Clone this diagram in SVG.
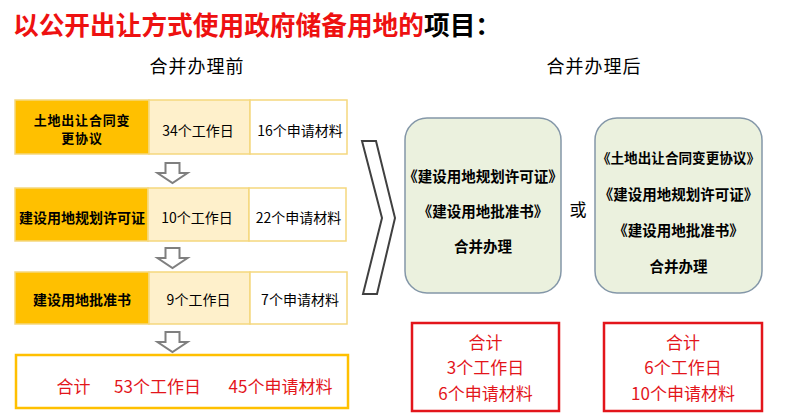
<svg xmlns="http://www.w3.org/2000/svg" width="786" height="420" viewBox="0 0 786 420">
<defs>
<style>
text{font-family:"Noto Sans CJK SC","Noto Sans",sans-serif;}
.cell{stroke:#F5D77E;stroke-width:1.5;}
.c1{fill:#FFC000;}
.c2{fill:#FEF0CB;}
.c3{fill:#FFFFFF;}
.lbl{font-size:14px;font-weight:bold;fill:#000;text-anchor:middle;}
.val{font-size:14px;fill:#000;text-anchor:middle;}
.sub{font-size:18px;fill:#000;text-anchor:middle;letter-spacing:1px;}
.red{fill:#E3151B;text-anchor:middle;font-size:17px;}
.rbox{fill:#EBF1DE;stroke:#8497A8;stroke-width:1.5;}
.btxt{font-size:14.5px;font-weight:bold;fill:#000;text-anchor:middle;}
.arrow{fill:#FFFFFF;stroke:#7F7F7F;stroke-width:2;stroke-linejoin:miter;}
</style>
<polygon id="down" points="-7,0 7,0 7,10 15,10 0,20 -15,10 -7,10"/>
</defs>
<rect width="786" height="420" fill="#FFFFFF"/>

<g id="title">
<text x="13" y="35" font-size="25.7" font-weight="bold"><tspan fill="#EE1111">以公开出让方式使用政府储备用地的</tspan><tspan fill="#000000">项目：</tspan></text>
</g>
<g id="sub-before"><text class="sub" x="197" y="73">合并办理前</text></g>
<g id="sub-after"><text class="sub" x="594" y="73">合并办理后</text></g>

<g id="row1">
<rect class="cell c1" x="15" y="100" width="134" height="54"/>
<rect class="cell c2" x="149" y="100" width="101" height="54"/>
<rect class="cell c3" x="250" y="100" width="97" height="54"/>
<text class="lbl" x="82" y="124.5" style="font-size:13px;letter-spacing:0.8px">土地出让合同变<tspan x="82" dy="18.8">更协议</tspan></text>
<text class="val" x="198" y="136">34个工作日</text>
<text class="val" x="300" y="136">16个申请材料</text>
</g>

<g id="row2">
<rect class="cell c1" x="15" y="188" width="133" height="53"/>
<rect class="cell c2" x="148" y="188" width="101" height="53"/>
<rect class="cell c3" x="249" y="188" width="97" height="53"/>
<text class="lbl" x="82" y="223">建设用地规划许可证</text>
<text class="val" x="197" y="223">10个工作日</text>
<text class="val" x="298.5" y="223">22个申请材料</text>
</g>

<g id="row3">
<rect class="cell c1" x="15" y="272" width="134" height="52"/>
<rect class="cell c2" x="149" y="272" width="101" height="52"/>
<rect class="cell c3" x="250" y="272" width="97" height="52"/>
<text class="lbl" x="82" y="305">建设用地批准书</text>
<text class="val" x="198.5" y="305">9个工作日</text>
<text class="val" x="300" y="305">7个申请材料</text>
</g>

<g id="total-before">
<rect x="16" y="355" width="332" height="53" fill="#FFFFFF" stroke="#FFC000" stroke-width="2.5"/>
<text class="red" x="73.5" y="393">合计</text>
<text class="red" x="157.5" y="393">53个工作日</text>
<text class="red" x="280.5" y="393">45个申请材料</text>
</g>

<g id="merged-a">
<rect class="rbox" x="405" y="118" width="156" height="175" rx="22" ry="22"/>
<text class="btxt" x="483" y="182">《建设用地规划许可证》</text>
<text class="btxt" x="483" y="217">《建设用地批准书》</text>
<text class="btxt" x="483" y="252">合并办理</text>
</g>

<g id="or"><text x="578" y="216" font-size="17" text-anchor="middle" fill="#000">或</text></g>

<g id="merged-b">
<rect class="rbox" x="595" y="118" width="167" height="175" rx="22" ry="22"/>
<text class="btxt" x="678.5" y="163" style="font-size:13.6px">《土地出让合同变更协议》</text>
<text class="btxt" x="678.5" y="200">《建设用地规划许可证》</text>
<text class="btxt" x="678.5" y="236">《建设用地批准书》</text>
<text class="btxt" x="678.5" y="272">合并办理</text>
</g>

<g id="total-a">
<rect x="412" y="323" width="147" height="88" fill="#FFFFFF" stroke="#E3151B" stroke-width="2.5"/>
<text class="red" x="485.5" y="349">合计</text>
<text class="red" x="485.5" y="374">3个工作日</text>
<text class="red" x="485.5" y="400">6个申请材料</text>
</g>

<g id="total-b">
<rect x="604" y="323" width="158" height="88" fill="#FFFFFF" stroke="#E3151B" stroke-width="2.5"/>
<text class="red" x="683" y="349">合计</text>
<text class="red" x="683" y="374">6个工作日</text>
<text class="red" x="683" y="400">10个申请材料</text>
</g>

<g id="connectors">
<use href="#down" class="arrow" x="172.5" y="163"/>
<use href="#down" class="arrow" x="172.5" y="248"/>
<use href="#down" class="arrow" x="172.5" y="332"/>
<polygon points="362,141 376,141 395,218 377,294 363,294 382,218" fill="#FFFFFF" stroke="#404040" stroke-width="2"/>
</g>
</svg>
